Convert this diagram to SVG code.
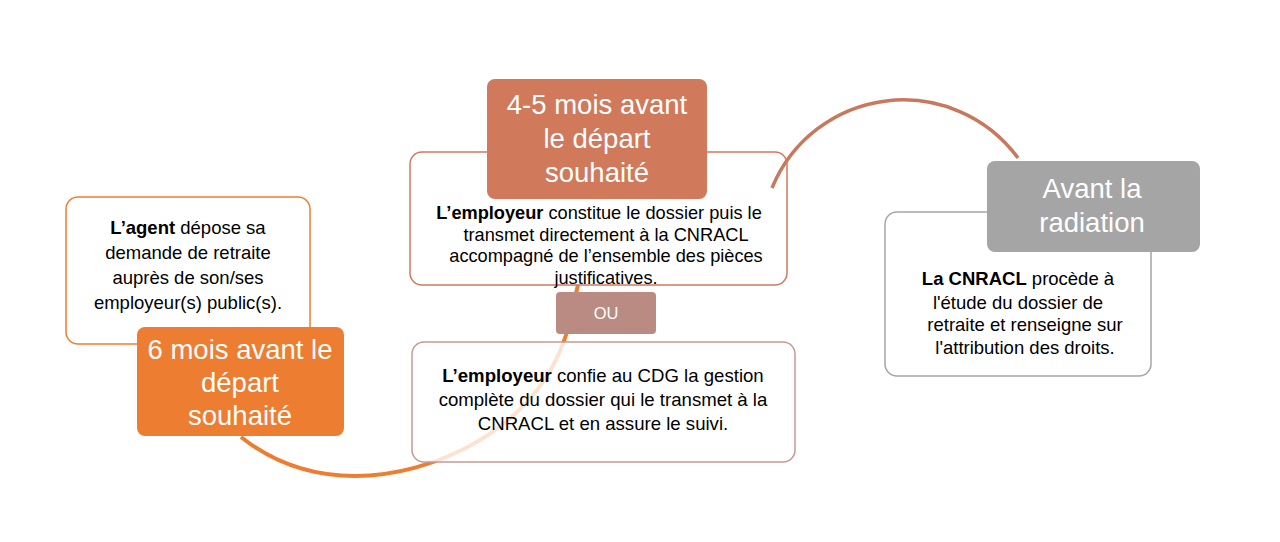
<svg xmlns="http://www.w3.org/2000/svg" width="1280" height="542" viewBox="0 0 1280 542">
<style>
.box{fill:#ffffff;stroke-width:1.5}
.t{font-family:"Liberation Sans",Arial,sans-serif;fill:#000;text-anchor:middle}
.lbl{font-family:"Liberation Sans",Arial,sans-serif;fill:#fff;text-anchor:middle;font-size:27.5px}
.b{font-weight:bold}
</style>
<rect width="1280" height="542" fill="#ffffff"/>
<g id="connectors">
<path d="M241,437 C275,464 315,476 355,476 C430,476 535,432 566,335 L578,285" fill="none" stroke="#ED7D31" stroke-width="4"/>
<path d="M772,188 A142 142 0 0 1 1018,158" fill="none" stroke="#C8785D" stroke-width="3.5"/>
</g>
<g id="agent">
<rect class="box" x="66" y="197" width="244" height="147" rx="12" stroke="#ED7D31"/>
<text class="t" font-size="18.5"><tspan x="188" y="234"><tspan class="b">L’agent</tspan> dépose sa</tspan><tspan x="188" y="259">demande de retraite</tspan><tspan x="188" y="284">auprès de son/ses</tspan><tspan x="188" y="309">employeur(s) public(s).</tspan></text>
</g>
<g id="six-mois">
<rect x="137" y="327" width="207" height="109" rx="8" fill="#ED7D31"/>
<text class="lbl"><tspan x="240" y="359">6 mois avant le</tspan><tspan x="240" y="392">départ</tspan><tspan x="240" y="425">souhaité</tspan></text>
</g>
<g id="employeur-direct">
<rect x="410" y="152" width="377" height="133" rx="12" fill="none" stroke="#D0795B" stroke-width="1.5"/>
<text class="t" font-size="18.2"><tspan x="599" y="219"><tspan class="b">L’employeur</tspan> constitue le dossier puis le</tspan><tspan x="606" y="241">transmet directement à la CNRACL</tspan><tspan x="606" y="262">accompagné de l’ensemble des pièces</tspan><tspan x="606" y="284">justificatives.</tspan></text>
</g>
<g id="quatre-cinq-mois">
<rect x="487" y="79" width="220" height="120" rx="8" fill="#D0795B"/>
<text class="lbl"><tspan x="597" y="114">4-5 mois avant</tspan><tspan x="597" y="148">le départ</tspan><tspan x="597" y="182">souhaité</tspan></text>
</g>
<g id="ou">
<rect x="556" y="292" width="100" height="42" rx="4" fill="#BA8B82"/>
<text x="606" y="319" font-family="Liberation Sans,Arial,sans-serif" font-size="16.5" fill="#fff" text-anchor="middle">OU</text>
</g>
<g id="employeur-cdg">
<rect class="box" x="412" y="342" width="383" height="120" rx="12" stroke="#C49A92" fill-opacity="0.78"/>
<text class="t" font-size="18.6"><tspan x="603" y="382"><tspan class="b">L’employeur</tspan> confie au CDG la gestion</tspan><tspan x="603" y="406">complète du dossier qui le transmet à la</tspan><tspan x="603" y="430">CNRACL et en assure le suivi.</tspan></text>
</g>
<g id="cnracl">
<rect class="box" x="885" y="212" width="266" height="164" rx="12" stroke="#A5A5A5"/>
<text class="t" font-size="18.5"><tspan x="1018" y="285"><tspan class="b">La CNRACL</tspan> procède à</tspan><tspan x="1018" y="309">l'étude du dossier de</tspan><tspan x="1025" y="331">retraite et renseigne sur</tspan><tspan x="1025" y="354">l'attribution des droits.</tspan></text>
</g>
<g id="radiation">
<rect x="987" y="161" width="213" height="91" rx="8" fill="#A5A5A5"/>
<text class="lbl"><tspan x="1092" y="198">Avant la</tspan><tspan x="1092" y="232">radiation</tspan></text>
</g>
</svg>
